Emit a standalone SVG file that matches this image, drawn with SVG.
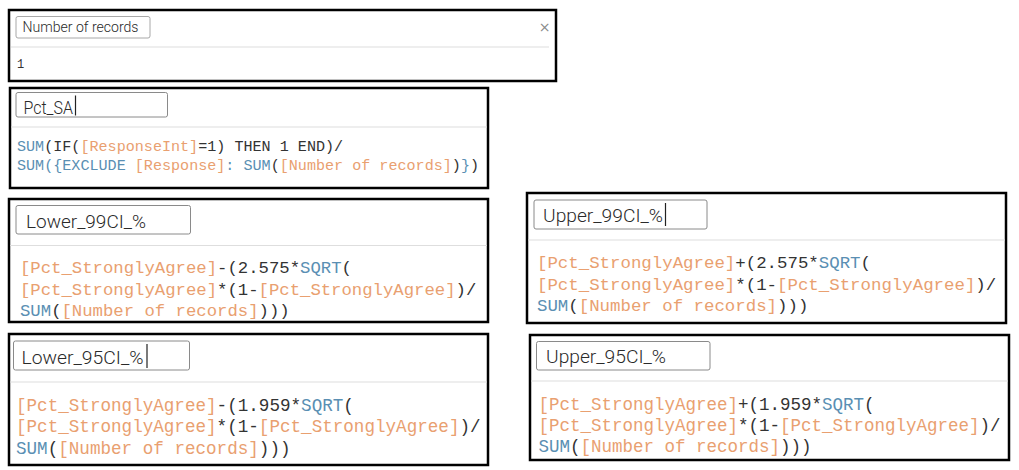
<svg xmlns="http://www.w3.org/2000/svg" width="1019" height="470" viewBox="0 0 1019 470">
<style>
.box{fill:#fff;stroke:#000;stroke-width:2.5}
.inp{fill:#fff;stroke:#8a8a8a;stroke-width:1}
.inp1{fill:#fff;stroke:#a8a8a8;stroke-width:1}
.sep{stroke:#dedede;stroke-width:1.2}
.title{font-family:Roboto,"Liberation Sans",sans-serif;font-weight:300;fill:#2a2a2a}
.code{font-family:"Liberation Mono","DejaVu Sans Mono",monospace;fill:#333}
.f{fill:#e9a070}
.fn{fill:#5a8fb3}
.cur{stroke:#222;stroke-width:1.2}
</style>
<rect width="1019" height="470" fill="#fff"/>
<g id="connectors"></g>
<g id="number-of-records">
<rect class="box" x="9" y="10" width="547" height="71"/>
<rect class="inp1" x="16" y="16.5" width="134" height="21.5" rx="2"/>
<text class="title" x="22.5" y="32" font-size="14" textLength="116" lengthAdjust="spacingAndGlyphs">Number of records</text>
<text x="544.5" y="32" font-family="'DejaVu Sans',sans-serif" font-size="14" fill="#8a8a8a" text-anchor="middle">×</text>
<line class="sep" x1="11" y1="47" x2="549" y2="47"/>
<text class="code" x="17" y="68" font-size="12">1</text>
</g>
<g id="pct-sa">
<rect class="box" x="10" y="88" width="478" height="100"/>
<rect class="inp" x="16" y="92.5" width="151.5" height="24.5" rx="2"/>
<text class="title" x="23.5" y="113.5" font-size="19" textLength="49.5" lengthAdjust="spacingAndGlyphs">Pct_SA</text>
<line class="cur" x1="75.5" y1="95.5" x2="75.5" y2="115.5"/>
<line class="sep" x1="11" y1="127" x2="487" y2="127"/>
<text class="code" font-size="15.1" xml:space="preserve"><tspan x="17" y="151"><tspan class="fn">SUM</tspan>(IF(<tspan class="f">[ResponseInt]</tspan>=1) THEN 1 END)/</tspan><tspan x="17" y="170"><tspan class="fn">SUM</tspan><tspan class="fn">(</tspan><tspan class="fn">{EXCLUDE</tspan> <tspan class="f">[Response]</tspan><tspan class="fn">:</tspan> <tspan class="fn">SUM</tspan>(<tspan class="f">[Number of records]</tspan>)<tspan class="fn">}</tspan>)</tspan></text>
</g>
<g id="lower-99ci">
<rect class="box" x="9" y="199" width="479" height="123"/>
<rect class="inp" x="16" y="205.5" width="174.5" height="28.5" rx="2"/>
<text class="title" x="26" y="228" font-size="18" textLength="120" lengthAdjust="spacingAndGlyphs">Lower_99CI_%</text>
<line class="sep" x1="10" y1="245.5" x2="487" y2="245.5"/>
<text class="code" font-size="17.3" xml:space="preserve"><tspan x="20" y="273"><tspan class="f">[Pct_StronglyAgree]</tspan>-(2.575*<tspan class="fn">SQRT</tspan>(</tspan><tspan x="20" y="295"><tspan class="f">[Pct_StronglyAgree]</tspan>*(1-<tspan class="f">[Pct_StronglyAgree]</tspan>)/</tspan><tspan x="20" y="316"><tspan class="fn">SUM</tspan>(<tspan class="f">[Number of records]</tspan>)))</tspan></text>
</g>
<g id="upper-99ci">
<rect class="box" x="527" y="193" width="479" height="130"/>
<rect class="inp" x="534" y="200" width="173" height="29" rx="2"/>
<text class="title" x="543" y="222" font-size="18" textLength="120" lengthAdjust="spacingAndGlyphs">Upper_99CI_%</text>
<line class="cur" x1="665.5" y1="203" x2="665.5" y2="226"/>
<line class="sep" x1="528" y1="240" x2="1005" y2="240"/>
<text class="code" font-size="17.4" xml:space="preserve"><tspan x="537" y="268"><tspan class="f">[Pct_StronglyAgree]</tspan>+(2.575*<tspan class="fn">SQRT</tspan>(</tspan><tspan x="537" y="290"><tspan class="f">[Pct_StronglyAgree]</tspan>*(1-<tspan class="f">[Pct_StronglyAgree]</tspan>)/</tspan><tspan x="537" y="311"><tspan class="fn">SUM</tspan>(<tspan class="f">[Number of records]</tspan>)))</tspan></text>
</g>
<g id="lower-95ci">
<rect class="box" x="9" y="334" width="479" height="131"/>
<rect class="inp" x="13.5" y="341" width="176" height="29" rx="2"/>
<text class="title" x="21.5" y="364" font-size="18" textLength="122" lengthAdjust="spacingAndGlyphs">Lower_95CI_%</text>
<line class="cur" x1="147" y1="344" x2="147" y2="368"/>
<line class="sep" x1="10" y1="382" x2="487" y2="382"/>
<text class="code" font-size="17.6" xml:space="preserve"><tspan x="16" y="411"><tspan class="f">[Pct_StronglyAgree]</tspan>-(1.959*<tspan class="fn">SQRT</tspan>(</tspan><tspan x="16" y="432"><tspan class="f">[Pct_StronglyAgree]</tspan>*(1-<tspan class="f">[Pct_StronglyAgree]</tspan>)/</tspan><tspan x="16" y="454"><tspan class="fn">SUM</tspan>(<tspan class="f">[Number of records]</tspan>)))</tspan></text>
</g>
<g id="upper-95ci">
<rect class="box" x="530" y="335" width="479" height="125"/>
<rect class="inp" x="536.5" y="341.5" width="173.5" height="28.5" rx="2"/>
<text class="title" x="546" y="363" font-size="18" textLength="120" lengthAdjust="spacingAndGlyphs">Upper_95CI_%</text>
<line class="sep" x1="531" y1="381" x2="1008" y2="381"/>
<text class="code" font-size="17.5" xml:space="preserve"><tspan x="538.5" y="410"><tspan class="f">[Pct_StronglyAgree]</tspan>+(1.959*<tspan class="fn">SQRT</tspan>(</tspan><tspan x="538.5" y="431"><tspan class="f">[Pct_StronglyAgree]</tspan>*(1-<tspan class="f">[Pct_StronglyAgree]</tspan>)/</tspan><tspan x="538.5" y="452"><tspan class="fn">SUM</tspan>(<tspan class="f">[Number of records]</tspan>)))</tspan></text>
</g>
</svg>
